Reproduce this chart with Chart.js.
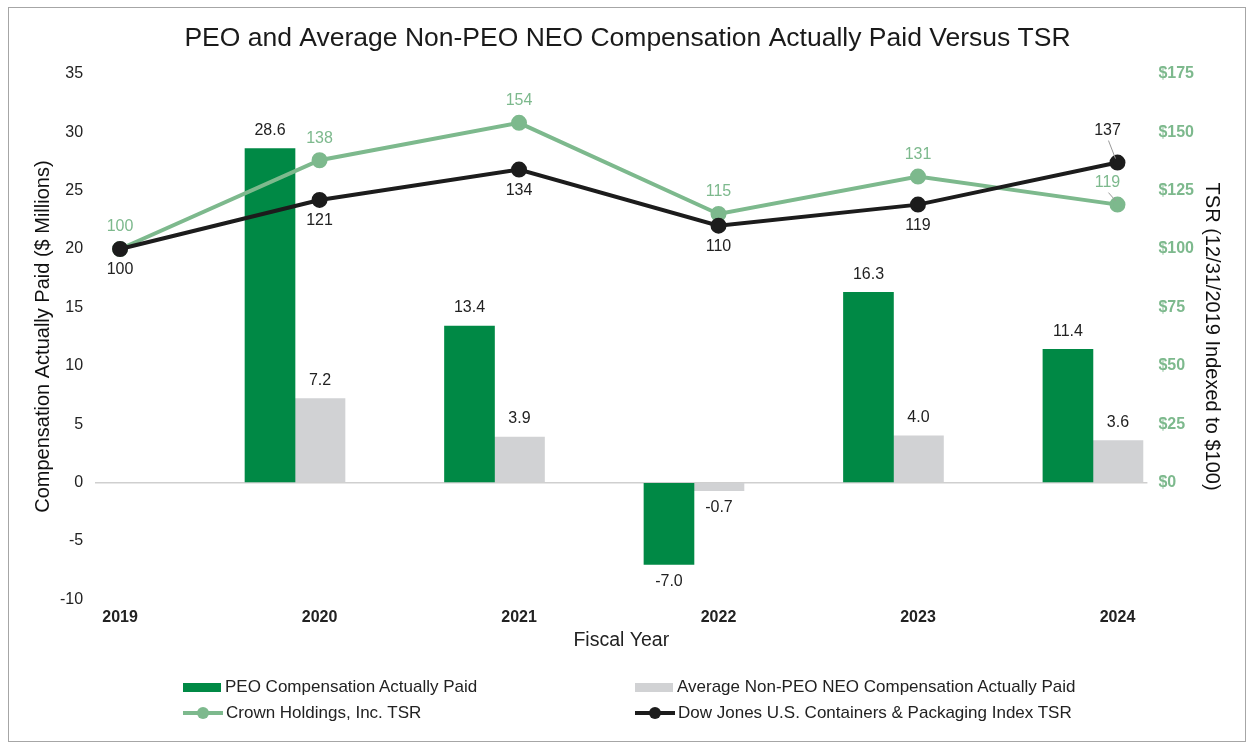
<!DOCTYPE html>
<html>
<head>
<meta charset="utf-8">
<script src="https://cdn.jsdelivr.net/npm/chart.js@4.4.1/dist/chart.umd.min.js"></script>
<style>
  body { margin: 0; background: #fff; font-family: "Liberation Sans", Arial, sans-serif; }
  #frame { position: absolute; left: 8px; top: 7px; width: 1236px; height: 733px; border: 1px solid #a6a6a6; }
  #wrap { position: absolute; left: 0; top: 0; width: 1252px; height: 748px; }
  #legend { position: absolute; left: 0; top: 677px; width: 1252px; height: 52px; }
  .item { position: absolute; display: flex; align-items: center; font-size: 17px; color: #222; white-space: nowrap; }
  .box { width: 38px; height: 9px; margin-right: 4px; }
  .ln { position: relative; width: 40px; height: 4px; margin-right: 3px; }
  .ln span { position: absolute; left: 14px; top: -4px; width: 12px; height: 12px; border-radius: 50%; }
</style>
</head>
<body>
<div id="frame"></div>
<div id="wrap"><canvas id="myChart"></canvas></div>
<div id="legend"></div>
<script>
const years = [2019, 2020, 2021, 2022, 2023, 2024];
const peoPaid = [null, 28.6, 13.4, -7.0, 16.3, 11.4];
const avgNeoPaid = [null, 7.2, 3.9, -0.7, 4.0, 3.6];
const crownTsr = [100, 138, 154, 115, 131, 119];
const dowJonesTsr = [100, 121, 134, 110, 119, 137];

const green = "rgb(0, 137, 69)";
const grey = "rgb(209, 210, 212)";
const lightGreen = "rgb(125, 185, 141)";
const black = "rgb(28, 28, 28)";

// bars sit a little left of the year tick in the original
const barShift = -0.123;

Chart.defaults.font.family = '"Liberation Sans", Arial, sans-serif';
Chart.defaults.color = "#222";

const barPoints = (vals) => years.map((yr, i) => ({ x: yr + barShift, y: vals[i] }));
const linePoints = (vals) => years.map((yr, i) => ({ x: yr, y: vals[i] }));

// Value labels drawn next to bars and points
const valueLabels = {
  id: "valueLabels",
  afterDatasetsDraw(chart) {
    const ctx = chart.ctx;
    ctx.save();
    ctx.font = '16px "Liberation Sans", Arial, sans-serif';
    ctx.textAlign = "center";
    ctx.textBaseline = "middle";
    chart.data.datasets.forEach((ds, di) => {
      const meta = chart.getDatasetMeta(di);
      meta.data.forEach((el, i) => {
        const v = ds.data[i].y;
        if (v == null) return;
        if (ds.type !== "line") {
          ctx.fillStyle = "#222";
          ctx.fillText(v.toFixed(1), el.x, v >= 0 ? el.y - 18 : el.y + 17);
          return;
        }
        const last = i === ds.data.length - 1;
        let dx = 0, dy = ds.labelSide === "above" ? -22 : 21;
        if (last) {
          dx = -10;
          dy = ds.labelSide === "above" ? -22 : -32;
          ctx.strokeStyle = "#999";
          ctx.lineWidth = 1;
          ctx.beginPath();
          ctx.moveTo(el.x - 9, el.y + dy + 10);
          ctx.lineTo(el.x - 2, el.y - 4);
          ctx.stroke();
        }
        ctx.fillStyle = ds.labelSide === "above" ? ds.borderColor : "#222";
        ctx.fillText(String(v), el.x + dx, el.y + dy);
      });
    });
    ctx.restore();
  },
};

const data = {
  datasets: [
    {
      label: "PEO Compensation Actually Paid",
      type: "bar",
      backgroundColor: green,
      data: barPoints(peoPaid),
      barThickness: 50,
      order: 2,
      yAxisID: "y",
    },
    {
      label: "Average Non-PEO NEO Compensation Actually Paid",
      type: "bar",
      backgroundColor: grey,
      data: barPoints(avgNeoPaid),
      barThickness: 50,
      order: 3,
      yAxisID: "y",
    },
    {
      label: "Crown Holdings, Inc. TSR",
      type: "line",
      borderColor: lightGreen,
      backgroundColor: lightGreen,
      borderWidth: 4,
      pointRadius: 6,
      pointHoverRadius: 6,
      data: linePoints(crownTsr),
      order: 1,
      yAxisID: "y2",
      labelSide: "above",
    },
    {
      label: "Dow Jones U.S. Containers & Packaging Index TSR",
      type: "line",
      borderColor: black,
      backgroundColor: black,
      borderWidth: 4,
      pointRadius: 6,
      pointHoverRadius: 6,
      data: linePoints(dowJonesTsr),
      order: 0,
      yAxisID: "y2",
      labelSide: "below",
    },
  ],
};

const config = {
  type: "bar",
  data: data,
  options: {
    responsive: true,
    maintainAspectRatio: false,
    animation: false,
    layout: { padding: { left: 31, right: 28, top: 0, bottom: 92 } },
    plugins: {
      legend: { display: false },
      tooltip: { enabled: false },
      title: {
        display: true,
        text: "PEO and Average Non-PEO NEO Compensation Actually Paid Versus TSR",
        font: { size: 26.5, weight: "normal" },
        color: "#1a1a1a",
        padding: { top: 23, bottom: 19 },
      },
    },
    scales: {
      x: {
        type: "linear",
        offset: false,
        min: 2018.875,
        max: 2024.15,
        afterBuildTicks: (scale) => {
          scale.ticks = years.map((yr) => ({ value: yr }));
        },
        ticks: {
          callback: (v) => String(v),
          font: { size: 16, weight: "bold" },
          color: "#222",
          padding: 9,
          maxRotation: 0,
        },
        grid: { display: false, drawTicks: false },
        border: { display: false },
        title: {
          display: true,
          text: "Fiscal Year",
          font: { size: 19.5 },
          color: "#222",
          padding: { top: -8, bottom: 4 },
        },
      },
      y: {
        position: "left",
        min: -10,
        max: 35,
        ticks: { stepSize: 5, padding: 12, font: { size: 16 }, color: "#222" },
        grid: {
          drawTicks: false,
          lineWidth: 1.5,
          color: (c) => (c.tick && c.tick.value === 0 ? "#cfcfcf" : "rgba(0,0,0,0)"),
        },
        border: { display: false },
        title: {
          display: true,
          text: "Compensation Actually Paid ($ Millions)",
          font: { size: 20 },
          color: "#111",
          padding: { top: 0, bottom: -7 },
        },
      },
      y2: {
        position: "right",
        min: -50,
        max: 175,
        ticks: {
          stepSize: 25,
          padding: 11,
          font: { size: 16, weight: "bold" },
          color: lightGreen,
          callback: (v) => (v < 0 ? null : "$" + v),
        },
        grid: { display: false, drawTicks: false },
        border: { display: false },
        title: {
          display: true,
          text: "TSR (12/31/2019 Indexed to $100)",
          font: { size: 20 },
          color: "#111",
          padding: { top: 0, bottom: -5 },
        },
      },
    },
  },
  plugins: [valueLabels],
};

const chart = new Chart(document.getElementById("myChart"), config);

// HTML legend laid out in two columns like the original
const legendEl = document.getElementById("legend");
const colX = [183, 635];
const rowY = [0, 26];
chart.data.datasets.forEach((ds, i) => {
  const item = document.createElement("div");
  item.className = "item";
  item.style.left = colX[i % 2] + "px";
  item.style.top = rowY[Math.floor(i / 2)] + "px";
  let mark;
  if (ds.type === "line") {
    mark = document.createElement("div");
    mark.className = "ln";
    mark.style.background = ds.borderColor;
    const dot = document.createElement("span");
    dot.style.background = ds.borderColor;
    mark.appendChild(dot);
  } else {
    mark = document.createElement("div");
    mark.className = "box";
    mark.style.background = ds.backgroundColor;
  }
  item.appendChild(mark);
  item.appendChild(document.createTextNode(ds.label));
  legendEl.appendChild(item);
});
</script>
</body>
</html>
